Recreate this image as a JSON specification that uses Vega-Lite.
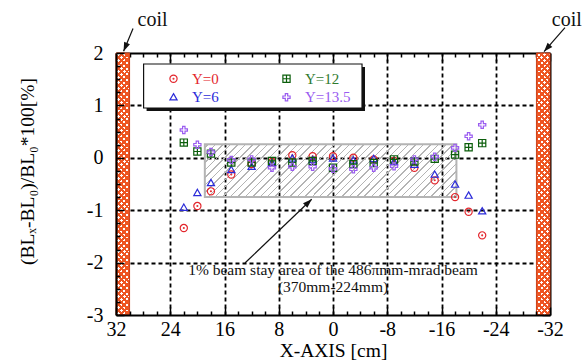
{
  "$schema": "https://vega.github.io/schema/vega-lite/v6.json",
  "width": 434,
  "height": 262,
  "autosize": "none",
  "padding": {"left": 116, "top": 53, "right": 38, "bottom": 47},
  "background": "white",
  "config": {"view": {"stroke": null}, "font": "Liberation Serif"},
  "datasets": {
    "points": [
      {"x": 22, "y": -1.34, "series": "Y=0"}, {"x": 20, "y": -0.92, "series": "Y=0"}, {"x": 18, "y": -0.64, "series": "Y=0"}, {"x": 15, "y": -0.32, "series": "Y=0"}, {"x": 12, "y": -0.12, "series": "Y=0"}, {"x": 9, "y": -0.08, "series": "Y=0"}, {"x": 6, "y": 0.05, "series": "Y=0"}, {"x": 3, "y": 0.03, "series": "Y=0"}, {"x": 0, "y": 0.03, "series": "Y=0"}, {"x": -3, "y": 0.0, "series": "Y=0"}, {"x": -6, "y": -0.03, "series": "Y=0"}, {"x": -9, "y": -0.06, "series": "Y=0"}, {"x": -12, "y": -0.19, "series": "Y=0"}, {"x": -15, "y": -0.43, "series": "Y=0"}, {"x": -18, "y": -0.75, "series": "Y=0"}, {"x": -20, "y": -1.03, "series": "Y=0"}, {"x": -22, "y": -1.48, "series": "Y=0"},
      {"x": 22, "y": -0.95, "series": "Y=6"}, {"x": 20, "y": -0.67, "series": "Y=6"}, {"x": 18, "y": -0.48, "series": "Y=6"}, {"x": 15, "y": -0.23, "series": "Y=6"}, {"x": 12, "y": -0.17, "series": "Y=6"}, {"x": 9, "y": -0.1, "series": "Y=6"}, {"x": 6, "y": -0.01, "series": "Y=6"}, {"x": 3, "y": -0.04, "series": "Y=6"}, {"x": 0, "y": -0.01, "series": "Y=6"}, {"x": -3, "y": -0.05, "series": "Y=6"}, {"x": -6, "y": -0.02, "series": "Y=6"}, {"x": -9, "y": -0.08, "series": "Y=6"}, {"x": -12, "y": -0.13, "series": "Y=6"}, {"x": -15, "y": -0.32, "series": "Y=6"}, {"x": -18, "y": -0.51, "series": "Y=6"}, {"x": -20, "y": -0.72, "series": "Y=6"}, {"x": -22, "y": -1.02, "series": "Y=6"},
      {"x": 22, "y": 0.29, "series": "Y=12"}, {"x": 20, "y": 0.12, "series": "Y=12"}, {"x": 18, "y": 0.08, "series": "Y=12"}, {"x": 15, "y": -0.09, "series": "Y=12"}, {"x": 12, "y": -0.09, "series": "Y=12"}, {"x": 9, "y": -0.06, "series": "Y=12"}, {"x": 6, "y": -0.09, "series": "Y=12"}, {"x": 3, "y": -0.06, "series": "Y=12"}, {"x": 0, "y": -0.19, "series": "Y=12"}, {"x": -3, "y": -0.12, "series": "Y=12"}, {"x": -6, "y": -0.1, "series": "Y=12"}, {"x": -9, "y": -0.03, "series": "Y=12"}, {"x": -12, "y": -0.07, "series": "Y=12"}, {"x": -15, "y": -0.02, "series": "Y=12"}, {"x": -18, "y": 0.06, "series": "Y=12"}, {"x": -20, "y": 0.2, "series": "Y=12"}, {"x": -22, "y": 0.28, "series": "Y=12"},
      {"x": 22, "y": 0.53, "series": "Y=13.5"}, {"x": 20, "y": 0.25, "series": "Y=13.5"}, {"x": 18, "y": 0.11, "series": "Y=13.5"}, {"x": 15, "y": -0.04, "series": "Y=13.5"}, {"x": 12, "y": -0.03, "series": "Y=13.5"}, {"x": 9, "y": -0.19, "series": "Y=13.5"}, {"x": 6, "y": -0.17, "series": "Y=13.5"}, {"x": 3, "y": -0.17, "series": "Y=13.5"}, {"x": 0, "y": -0.21, "series": "Y=13.5"}, {"x": -3, "y": -0.22, "series": "Y=13.5"}, {"x": -6, "y": -0.19, "series": "Y=13.5"}, {"x": -9, "y": -0.16, "series": "Y=13.5"}, {"x": -12, "y": -0.03, "series": "Y=13.5"}, {"x": -15, "y": 0.02, "series": "Y=13.5"}, {"x": -18, "y": 0.19, "series": "Y=13.5"}, {"x": -20, "y": 0.41, "series": "Y=13.5"}, {"x": -22, "y": 0.63, "series": "Y=13.5"}
    ],
    "coils": [
      {"x": 32, "x2": 30, "y": 2, "y2": -3},
      {"x": -30, "x2": -32, "y": 2, "y2": -3}
    ],
    "stayArea": [{"x": 18.9, "x2": -18.2, "y": 0.26, "y2": -0.75}],
    "legendFrame": [
      {"part": "shadow", "x": 27.49, "x2": -4.72, "y": 1.733, "y2": 0.893},
      {"part": "box", "x": 27.93, "x2": -4.28, "y": 1.79, "y2": 0.95}
    ],
    "arrows": [
      {"x": 29.49, "y": 2.467, "x2": 30.88, "y2": 2.033},
      {"x": -34.21, "y": 2.486, "x2": -31.12, "y2": 2.027},
      {"x": 12.98, "y": -2.008, "x2": 3.14, "y2": -0.79}
    ],
    "heads": [
      {"id": "left", "x": 30.88, "y": 2.033},
      {"id": "right", "x": -31.12, "y": 2.027},
      {"id": "main", "x": 3.14, "y": -0.79}
    ],
    "coilLabels": [
      {"x": 26.6, "y": 2.52, "t": "coil"},
      {"x": -34.47, "y": 2.52, "t": "coil"}
    ],
    "note": [
      {"x": 0, "y": -2.237, "t": "1% beam stay area of the 486πmm-mrad beam"},
      {"x": 0, "y": -2.56, "t": "(370mm-224mm)"}
    ]
  },
  "encoding": {
    "x": {"field": "x", "type": "quantitative", "scale": {"domain": [-32, 32], "reverse": true, "nice": false, "zero": false}, "axis": null},
    "y": {"field": "y", "type": "quantitative", "scale": {"domain": [-3, 2], "nice": false, "zero": false}, "axis": null}
  },
  "layer": [
    {
      "data": {"name": "coils"},
      "mark": {"type": "rect", "fill": "white"},
      "encoding": {
        "x": {"field": "x", "type": "quantitative", "scale": {"domain": [-32, 32], "reverse": true, "nice": false, "zero": false},
          "axis": {"orient": "top", "values": [-32,-30,-28,-26,-24,-22,-20,-18,-16,-14,-12,-10,-8,-6,-4,-2,0,2,4,6,8,10,12,14,16,18,20,22,24,26,28,30,32],
            "labels": false, "title": null, "grid": true, "gridColor": "black", "gridDash": [4, 3], "gridWidth": 1.8,
            "gridOpacity": {"condition": {"test": "datum.value % 8 === 0 && abs(datum.value) < 32", "value": 1}, "value": 0},
            "ticks": true, "tickColor": "black", "tickWidth": 1.5,
            "tickSize": {"condition": {"test": "datum.value % 8 === 0", "value": -8}, "value": -4},
            "domain": true, "domainColor": "black", "domainWidth": 2, "zindex": 0}},
        "y": {"field": "y", "type": "quantitative", "scale": {"domain": [-3, 2], "nice": false, "zero": false},
          "axis": {"orient": "right", "values": [-3,-2.75,-2.5,-2.25,-2,-1.75,-1.5,-1.25,-1,-0.75,-0.5,-0.25,0,0.25,0.5,0.75,1,1.25,1.5,1.75,2],
            "labels": false, "title": null, "grid": true, "gridColor": "black", "gridDash": [4, 3], "gridWidth": 1.8,
            "gridOpacity": {"condition": {"test": "datum.value % 1 === 0 && datum.value < 2 && datum.value > -3", "value": 1}, "value": 0},
            "ticks": true, "tickColor": "black", "tickWidth": 1.5,
            "tickSize": {"condition": {"test": "datum.value % 1 === 0", "value": -8}, "value": -4},
            "domain": true, "domainColor": "black", "domainWidth": 2, "zindex": 0}},
        "x2": {"field": "x2"},
        "y2": {"field": "y2"}
      }
    },
    {
      "data": {"name": "coils"},
      "mark": {"type": "rect",
        "fill": {"gradient": "linear", "x1": 0, "y1": 0, "x2": 0.0543, "y2": 1.0489, "stops": [
          {"offset": 0, "color": "#ee5522"}, {"offset": 0.0102, "color": "#ee5522"}, {"offset": 0.0102, "color": "rgba(238,85,34,0)"}, {"offset": 0.02041, "color": "rgba(238,85,34,0)"},
          {"offset": 0.02041, "color": "#ee5522"}, {"offset": 0.03061, "color": "#ee5522"}, {"offset": 0.03061, "color": "rgba(238,85,34,0)"}, {"offset": 0.04082, "color": "rgba(238,85,34,0)"},
          {"offset": 0.04082, "color": "#ee5522"}, {"offset": 0.05102, "color": "#ee5522"}, {"offset": 0.05102, "color": "rgba(238,85,34,0)"}, {"offset": 0.06122, "color": "rgba(238,85,34,0)"},
          {"offset": 0.06122, "color": "#ee5522"}, {"offset": 0.07143, "color": "#ee5522"}, {"offset": 0.07143, "color": "rgba(238,85,34,0)"}, {"offset": 0.08163, "color": "rgba(238,85,34,0)"},
          {"offset": 0.08163, "color": "#ee5522"}, {"offset": 0.09184, "color": "#ee5522"}, {"offset": 0.09184, "color": "rgba(238,85,34,0)"}, {"offset": 0.10204, "color": "rgba(238,85,34,0)"},
          {"offset": 0.10204, "color": "#ee5522"}, {"offset": 0.11224, "color": "#ee5522"}, {"offset": 0.11224, "color": "rgba(238,85,34,0)"}, {"offset": 0.12245, "color": "rgba(238,85,34,0)"},
          {"offset": 0.12245, "color": "#ee5522"}, {"offset": 0.13265, "color": "#ee5522"}, {"offset": 0.13265, "color": "rgba(238,85,34,0)"}, {"offset": 0.14286, "color": "rgba(238,85,34,0)"},
          {"offset": 0.14286, "color": "#ee5522"}, {"offset": 0.15306, "color": "#ee5522"}, {"offset": 0.15306, "color": "rgba(238,85,34,0)"}, {"offset": 0.16327, "color": "rgba(238,85,34,0)"},
          {"offset": 0.16327, "color": "#ee5522"}, {"offset": 0.17347, "color": "#ee5522"}, {"offset": 0.17347, "color": "rgba(238,85,34,0)"}, {"offset": 0.18367, "color": "rgba(238,85,34,0)"},
          {"offset": 0.18367, "color": "#ee5522"}, {"offset": 0.19388, "color": "#ee5522"}, {"offset": 0.19388, "color": "rgba(238,85,34,0)"}, {"offset": 0.20408, "color": "rgba(238,85,34,0)"},
          {"offset": 0.20408, "color": "#ee5522"}, {"offset": 0.21429, "color": "#ee5522"}, {"offset": 0.21429, "color": "rgba(238,85,34,0)"}, {"offset": 0.22449, "color": "rgba(238,85,34,0)"},
          {"offset": 0.22449, "color": "#ee5522"}, {"offset": 0.23469, "color": "#ee5522"}, {"offset": 0.23469, "color": "rgba(238,85,34,0)"}, {"offset": 0.2449, "color": "rgba(238,85,34,0)"},
          {"offset": 0.2449, "color": "#ee5522"}, {"offset": 0.2551, "color": "#ee5522"}, {"offset": 0.2551, "color": "rgba(238,85,34,0)"}, {"offset": 0.26531, "color": "rgba(238,85,34,0)"},
          {"offset": 0.26531, "color": "#ee5522"}, {"offset": 0.27551, "color": "#ee5522"}, {"offset": 0.27551, "color": "rgba(238,85,34,0)"}, {"offset": 0.28571, "color": "rgba(238,85,34,0)"},
          {"offset": 0.28571, "color": "#ee5522"}, {"offset": 0.29592, "color": "#ee5522"}, {"offset": 0.29592, "color": "rgba(238,85,34,0)"}, {"offset": 0.30612, "color": "rgba(238,85,34,0)"},
          {"offset": 0.30612, "color": "#ee5522"}, {"offset": 0.31633, "color": "#ee5522"}, {"offset": 0.31633, "color": "rgba(238,85,34,0)"}, {"offset": 0.32653, "color": "rgba(238,85,34,0)"},
          {"offset": 0.32653, "color": "#ee5522"}, {"offset": 0.33673, "color": "#ee5522"}, {"offset": 0.33673, "color": "rgba(238,85,34,0)"}, {"offset": 0.34694, "color": "rgba(238,85,34,0)"},
          {"offset": 0.34694, "color": "#ee5522"}, {"offset": 0.35714, "color": "#ee5522"}, {"offset": 0.35714, "color": "rgba(238,85,34,0)"}, {"offset": 0.36735, "color": "rgba(238,85,34,0)"},
          {"offset": 0.36735, "color": "#ee5522"}, {"offset": 0.37755, "color": "#ee5522"}, {"offset": 0.37755, "color": "rgba(238,85,34,0)"}, {"offset": 0.38776, "color": "rgba(238,85,34,0)"},
          {"offset": 0.38776, "color": "#ee5522"}, {"offset": 0.39796, "color": "#ee5522"}, {"offset": 0.39796, "color": "rgba(238,85,34,0)"}, {"offset": 0.40816, "color": "rgba(238,85,34,0)"},
          {"offset": 0.40816, "color": "#ee5522"}, {"offset": 0.41837, "color": "#ee5522"}, {"offset": 0.41837, "color": "rgba(238,85,34,0)"}, {"offset": 0.42857, "color": "rgba(238,85,34,0)"},
          {"offset": 0.42857, "color": "#ee5522"}, {"offset": 0.43878, "color": "#ee5522"}, {"offset": 0.43878, "color": "rgba(238,85,34,0)"}, {"offset": 0.44898, "color": "rgba(238,85,34,0)"},
          {"offset": 0.44898, "color": "#ee5522"}, {"offset": 0.45918, "color": "#ee5522"}, {"offset": 0.45918, "color": "rgba(238,85,34,0)"}, {"offset": 0.46939, "color": "rgba(238,85,34,0)"},
          {"offset": 0.46939, "color": "#ee5522"}, {"offset": 0.47959, "color": "#ee5522"}, {"offset": 0.47959, "color": "rgba(238,85,34,0)"}, {"offset": 0.4898, "color": "rgba(238,85,34,0)"},
          {"offset": 0.4898, "color": "#ee5522"}, {"offset": 0.5, "color": "#ee5522"}, {"offset": 0.5, "color": "rgba(238,85,34,0)"}, {"offset": 0.5102, "color": "rgba(238,85,34,0)"},
          {"offset": 0.5102, "color": "#ee5522"}, {"offset": 0.52041, "color": "#ee5522"}, {"offset": 0.52041, "color": "rgba(238,85,34,0)"}, {"offset": 0.53061, "color": "rgba(238,85,34,0)"},
          {"offset": 0.53061, "color": "#ee5522"}, {"offset": 0.54082, "color": "#ee5522"}, {"offset": 0.54082, "color": "rgba(238,85,34,0)"}, {"offset": 0.55102, "color": "rgba(238,85,34,0)"},
          {"offset": 0.55102, "color": "#ee5522"}, {"offset": 0.56122, "color": "#ee5522"}, {"offset": 0.56122, "color": "rgba(238,85,34,0)"}, {"offset": 0.57143, "color": "rgba(238,85,34,0)"},
          {"offset": 0.57143, "color": "#ee5522"}, {"offset": 0.58163, "color": "#ee5522"}, {"offset": 0.58163, "color": "rgba(238,85,34,0)"}, {"offset": 0.59184, "color": "rgba(238,85,34,0)"},
          {"offset": 0.59184, "color": "#ee5522"}, {"offset": 0.60204, "color": "#ee5522"}, {"offset": 0.60204, "color": "rgba(238,85,34,0)"}, {"offset": 0.61224, "color": "rgba(238,85,34,0)"},
          {"offset": 0.61224, "color": "#ee5522"}, {"offset": 0.62245, "color": "#ee5522"}, {"offset": 0.62245, "color": "rgba(238,85,34,0)"}, {"offset": 0.63265, "color": "rgba(238,85,34,0)"},
          {"offset": 0.63265, "color": "#ee5522"}, {"offset": 0.64286, "color": "#ee5522"}, {"offset": 0.64286, "color": "rgba(238,85,34,0)"}, {"offset": 0.65306, "color": "rgba(238,85,34,0)"},
          {"offset": 0.65306, "color": "#ee5522"}, {"offset": 0.66327, "color": "#ee5522"}, {"offset": 0.66327, "color": "rgba(238,85,34,0)"}, {"offset": 0.67347, "color": "rgba(238,85,34,0)"},
          {"offset": 0.67347, "color": "#ee5522"}, {"offset": 0.68367, "color": "#ee5522"}, {"offset": 0.68367, "color": "rgba(238,85,34,0)"}, {"offset": 0.69388, "color": "rgba(238,85,34,0)"},
          {"offset": 0.69388, "color": "#ee5522"}, {"offset": 0.70408, "color": "#ee5522"}, {"offset": 0.70408, "color": "rgba(238,85,34,0)"}, {"offset": 0.71429, "color": "rgba(238,85,34,0)"},
          {"offset": 0.71429, "color": "#ee5522"}, {"offset": 0.72449, "color": "#ee5522"}, {"offset": 0.72449, "color": "rgba(238,85,34,0)"}, {"offset": 0.73469, "color": "rgba(238,85,34,0)"},
          {"offset": 0.73469, "color": "#ee5522"}, {"offset": 0.7449, "color": "#ee5522"}, {"offset": 0.7449, "color": "rgba(238,85,34,0)"}, {"offset": 0.7551, "color": "rgba(238,85,34,0)"},
          {"offset": 0.7551, "color": "#ee5522"}, {"offset": 0.76531, "color": "#ee5522"}, {"offset": 0.76531, "color": "rgba(238,85,34,0)"}, {"offset": 0.77551, "color": "rgba(238,85,34,0)"},
          {"offset": 0.77551, "color": "#ee5522"}, {"offset": 0.78571, "color": "#ee5522"}, {"offset": 0.78571, "color": "rgba(238,85,34,0)"}, {"offset": 0.79592, "color": "rgba(238,85,34,0)"},
          {"offset": 0.79592, "color": "#ee5522"}, {"offset": 0.80612, "color": "#ee5522"}, {"offset": 0.80612, "color": "rgba(238,85,34,0)"}, {"offset": 0.81633, "color": "rgba(238,85,34,0)"},
          {"offset": 0.81633, "color": "#ee5522"}, {"offset": 0.82653, "color": "#ee5522"}, {"offset": 0.82653, "color": "rgba(238,85,34,0)"}, {"offset": 0.83673, "color": "rgba(238,85,34,0)"},
          {"offset": 0.83673, "color": "#ee5522"}, {"offset": 0.84694, "color": "#ee5522"}, {"offset": 0.84694, "color": "rgba(238,85,34,0)"}, {"offset": 0.85714, "color": "rgba(238,85,34,0)"},
          {"offset": 0.85714, "color": "#ee5522"}, {"offset": 0.86735, "color": "#ee5522"}, {"offset": 0.86735, "color": "rgba(238,85,34,0)"}, {"offset": 0.87755, "color": "rgba(238,85,34,0)"},
          {"offset": 0.87755, "color": "#ee5522"}, {"offset": 0.88776, "color": "#ee5522"}, {"offset": 0.88776, "color": "rgba(238,85,34,0)"}, {"offset": 0.89796, "color": "rgba(238,85,34,0)"},
          {"offset": 0.89796, "color": "#ee5522"}, {"offset": 0.90816, "color": "#ee5522"}, {"offset": 0.90816, "color": "rgba(238,85,34,0)"}, {"offset": 0.91837, "color": "rgba(238,85,34,0)"},
          {"offset": 0.91837, "color": "#ee5522"}, {"offset": 0.92857, "color": "#ee5522"}, {"offset": 0.92857, "color": "rgba(238,85,34,0)"}, {"offset": 0.93878, "color": "rgba(238,85,34,0)"},
          {"offset": 0.93878, "color": "#ee5522"}, {"offset": 0.94898, "color": "#ee5522"}, {"offset": 0.94898, "color": "rgba(238,85,34,0)"}, {"offset": 0.95918, "color": "rgba(238,85,34,0)"},
          {"offset": 0.95918, "color": "#ee5522"}, {"offset": 0.96939, "color": "#ee5522"}, {"offset": 0.96939, "color": "rgba(238,85,34,0)"}, {"offset": 0.97959, "color": "rgba(238,85,34,0)"},
          {"offset": 0.97959, "color": "#ee5522"}, {"offset": 0.9898, "color": "#ee5522"}, {"offset": 0.9898, "color": "rgba(238,85,34,0)"}, {"offset": 1, "color": "rgba(238,85,34,0)"}
        ]}},
      "encoding": {"x2": {"field": "x2"}, "y2": {"field": "y2"}}
    },
    {
      "data": {"name": "coils"},
      "mark": {"type": "rect", "stroke": "#c8401a", "strokeWidth": 1,
        "fill": {"gradient": "linear", "x1": 0, "y1": 1, "x2": 0.0543, "y2": -0.0489, "stops": [
          {"offset": 0, "color": "#ee5522"}, {"offset": 0.0102, "color": "#ee5522"}, {"offset": 0.0102, "color": "rgba(238,85,34,0)"}, {"offset": 0.02041, "color": "rgba(238,85,34,0)"},
          {"offset": 0.02041, "color": "#ee5522"}, {"offset": 0.03061, "color": "#ee5522"}, {"offset": 0.03061, "color": "rgba(238,85,34,0)"}, {"offset": 0.04082, "color": "rgba(238,85,34,0)"},
          {"offset": 0.04082, "color": "#ee5522"}, {"offset": 0.05102, "color": "#ee5522"}, {"offset": 0.05102, "color": "rgba(238,85,34,0)"}, {"offset": 0.06122, "color": "rgba(238,85,34,0)"},
          {"offset": 0.06122, "color": "#ee5522"}, {"offset": 0.07143, "color": "#ee5522"}, {"offset": 0.07143, "color": "rgba(238,85,34,0)"}, {"offset": 0.08163, "color": "rgba(238,85,34,0)"},
          {"offset": 0.08163, "color": "#ee5522"}, {"offset": 0.09184, "color": "#ee5522"}, {"offset": 0.09184, "color": "rgba(238,85,34,0)"}, {"offset": 0.10204, "color": "rgba(238,85,34,0)"},
          {"offset": 0.10204, "color": "#ee5522"}, {"offset": 0.11224, "color": "#ee5522"}, {"offset": 0.11224, "color": "rgba(238,85,34,0)"}, {"offset": 0.12245, "color": "rgba(238,85,34,0)"},
          {"offset": 0.12245, "color": "#ee5522"}, {"offset": 0.13265, "color": "#ee5522"}, {"offset": 0.13265, "color": "rgba(238,85,34,0)"}, {"offset": 0.14286, "color": "rgba(238,85,34,0)"},
          {"offset": 0.14286, "color": "#ee5522"}, {"offset": 0.15306, "color": "#ee5522"}, {"offset": 0.15306, "color": "rgba(238,85,34,0)"}, {"offset": 0.16327, "color": "rgba(238,85,34,0)"},
          {"offset": 0.16327, "color": "#ee5522"}, {"offset": 0.17347, "color": "#ee5522"}, {"offset": 0.17347, "color": "rgba(238,85,34,0)"}, {"offset": 0.18367, "color": "rgba(238,85,34,0)"},
          {"offset": 0.18367, "color": "#ee5522"}, {"offset": 0.19388, "color": "#ee5522"}, {"offset": 0.19388, "color": "rgba(238,85,34,0)"}, {"offset": 0.20408, "color": "rgba(238,85,34,0)"},
          {"offset": 0.20408, "color": "#ee5522"}, {"offset": 0.21429, "color": "#ee5522"}, {"offset": 0.21429, "color": "rgba(238,85,34,0)"}, {"offset": 0.22449, "color": "rgba(238,85,34,0)"},
          {"offset": 0.22449, "color": "#ee5522"}, {"offset": 0.23469, "color": "#ee5522"}, {"offset": 0.23469, "color": "rgba(238,85,34,0)"}, {"offset": 0.2449, "color": "rgba(238,85,34,0)"},
          {"offset": 0.2449, "color": "#ee5522"}, {"offset": 0.2551, "color": "#ee5522"}, {"offset": 0.2551, "color": "rgba(238,85,34,0)"}, {"offset": 0.26531, "color": "rgba(238,85,34,0)"},
          {"offset": 0.26531, "color": "#ee5522"}, {"offset": 0.27551, "color": "#ee5522"}, {"offset": 0.27551, "color": "rgba(238,85,34,0)"}, {"offset": 0.28571, "color": "rgba(238,85,34,0)"},
          {"offset": 0.28571, "color": "#ee5522"}, {"offset": 0.29592, "color": "#ee5522"}, {"offset": 0.29592, "color": "rgba(238,85,34,0)"}, {"offset": 0.30612, "color": "rgba(238,85,34,0)"},
          {"offset": 0.30612, "color": "#ee5522"}, {"offset": 0.31633, "color": "#ee5522"}, {"offset": 0.31633, "color": "rgba(238,85,34,0)"}, {"offset": 0.32653, "color": "rgba(238,85,34,0)"},
          {"offset": 0.32653, "color": "#ee5522"}, {"offset": 0.33673, "color": "#ee5522"}, {"offset": 0.33673, "color": "rgba(238,85,34,0)"}, {"offset": 0.34694, "color": "rgba(238,85,34,0)"},
          {"offset": 0.34694, "color": "#ee5522"}, {"offset": 0.35714, "color": "#ee5522"}, {"offset": 0.35714, "color": "rgba(238,85,34,0)"}, {"offset": 0.36735, "color": "rgba(238,85,34,0)"},
          {"offset": 0.36735, "color": "#ee5522"}, {"offset": 0.37755, "color": "#ee5522"}, {"offset": 0.37755, "color": "rgba(238,85,34,0)"}, {"offset": 0.38776, "color": "rgba(238,85,34,0)"},
          {"offset": 0.38776, "color": "#ee5522"}, {"offset": 0.39796, "color": "#ee5522"}, {"offset": 0.39796, "color": "rgba(238,85,34,0)"}, {"offset": 0.40816, "color": "rgba(238,85,34,0)"},
          {"offset": 0.40816, "color": "#ee5522"}, {"offset": 0.41837, "color": "#ee5522"}, {"offset": 0.41837, "color": "rgba(238,85,34,0)"}, {"offset": 0.42857, "color": "rgba(238,85,34,0)"},
          {"offset": 0.42857, "color": "#ee5522"}, {"offset": 0.43878, "color": "#ee5522"}, {"offset": 0.43878, "color": "rgba(238,85,34,0)"}, {"offset": 0.44898, "color": "rgba(238,85,34,0)"},
          {"offset": 0.44898, "color": "#ee5522"}, {"offset": 0.45918, "color": "#ee5522"}, {"offset": 0.45918, "color": "rgba(238,85,34,0)"}, {"offset": 0.46939, "color": "rgba(238,85,34,0)"},
          {"offset": 0.46939, "color": "#ee5522"}, {"offset": 0.47959, "color": "#ee5522"}, {"offset": 0.47959, "color": "rgba(238,85,34,0)"}, {"offset": 0.4898, "color": "rgba(238,85,34,0)"},
          {"offset": 0.4898, "color": "#ee5522"}, {"offset": 0.5, "color": "#ee5522"}, {"offset": 0.5, "color": "rgba(238,85,34,0)"}, {"offset": 0.5102, "color": "rgba(238,85,34,0)"},
          {"offset": 0.5102, "color": "#ee5522"}, {"offset": 0.52041, "color": "#ee5522"}, {"offset": 0.52041, "color": "rgba(238,85,34,0)"}, {"offset": 0.53061, "color": "rgba(238,85,34,0)"},
          {"offset": 0.53061, "color": "#ee5522"}, {"offset": 0.54082, "color": "#ee5522"}, {"offset": 0.54082, "color": "rgba(238,85,34,0)"}, {"offset": 0.55102, "color": "rgba(238,85,34,0)"},
          {"offset": 0.55102, "color": "#ee5522"}, {"offset": 0.56122, "color": "#ee5522"}, {"offset": 0.56122, "color": "rgba(238,85,34,0)"}, {"offset": 0.57143, "color": "rgba(238,85,34,0)"},
          {"offset": 0.57143, "color": "#ee5522"}, {"offset": 0.58163, "color": "#ee5522"}, {"offset": 0.58163, "color": "rgba(238,85,34,0)"}, {"offset": 0.59184, "color": "rgba(238,85,34,0)"},
          {"offset": 0.59184, "color": "#ee5522"}, {"offset": 0.60204, "color": "#ee5522"}, {"offset": 0.60204, "color": "rgba(238,85,34,0)"}, {"offset": 0.61224, "color": "rgba(238,85,34,0)"},
          {"offset": 0.61224, "color": "#ee5522"}, {"offset": 0.62245, "color": "#ee5522"}, {"offset": 0.62245, "color": "rgba(238,85,34,0)"}, {"offset": 0.63265, "color": "rgba(238,85,34,0)"},
          {"offset": 0.63265, "color": "#ee5522"}, {"offset": 0.64286, "color": "#ee5522"}, {"offset": 0.64286, "color": "rgba(238,85,34,0)"}, {"offset": 0.65306, "color": "rgba(238,85,34,0)"},
          {"offset": 0.65306, "color": "#ee5522"}, {"offset": 0.66327, "color": "#ee5522"}, {"offset": 0.66327, "color": "rgba(238,85,34,0)"}, {"offset": 0.67347, "color": "rgba(238,85,34,0)"},
          {"offset": 0.67347, "color": "#ee5522"}, {"offset": 0.68367, "color": "#ee5522"}, {"offset": 0.68367, "color": "rgba(238,85,34,0)"}, {"offset": 0.69388, "color": "rgba(238,85,34,0)"},
          {"offset": 0.69388, "color": "#ee5522"}, {"offset": 0.70408, "color": "#ee5522"}, {"offset": 0.70408, "color": "rgba(238,85,34,0)"}, {"offset": 0.71429, "color": "rgba(238,85,34,0)"},
          {"offset": 0.71429, "color": "#ee5522"}, {"offset": 0.72449, "color": "#ee5522"}, {"offset": 0.72449, "color": "rgba(238,85,34,0)"}, {"offset": 0.73469, "color": "rgba(238,85,34,0)"},
          {"offset": 0.73469, "color": "#ee5522"}, {"offset": 0.7449, "color": "#ee5522"}, {"offset": 0.7449, "color": "rgba(238,85,34,0)"}, {"offset": 0.7551, "color": "rgba(238,85,34,0)"},
          {"offset": 0.7551, "color": "#ee5522"}, {"offset": 0.76531, "color": "#ee5522"}, {"offset": 0.76531, "color": "rgba(238,85,34,0)"}, {"offset": 0.77551, "color": "rgba(238,85,34,0)"},
          {"offset": 0.77551, "color": "#ee5522"}, {"offset": 0.78571, "color": "#ee5522"}, {"offset": 0.78571, "color": "rgba(238,85,34,0)"}, {"offset": 0.79592, "color": "rgba(238,85,34,0)"},
          {"offset": 0.79592, "color": "#ee5522"}, {"offset": 0.80612, "color": "#ee5522"}, {"offset": 0.80612, "color": "rgba(238,85,34,0)"}, {"offset": 0.81633, "color": "rgba(238,85,34,0)"},
          {"offset": 0.81633, "color": "#ee5522"}, {"offset": 0.82653, "color": "#ee5522"}, {"offset": 0.82653, "color": "rgba(238,85,34,0)"}, {"offset": 0.83673, "color": "rgba(238,85,34,0)"},
          {"offset": 0.83673, "color": "#ee5522"}, {"offset": 0.84694, "color": "#ee5522"}, {"offset": 0.84694, "color": "rgba(238,85,34,0)"}, {"offset": 0.85714, "color": "rgba(238,85,34,0)"},
          {"offset": 0.85714, "color": "#ee5522"}, {"offset": 0.86735, "color": "#ee5522"}, {"offset": 0.86735, "color": "rgba(238,85,34,0)"}, {"offset": 0.87755, "color": "rgba(238,85,34,0)"},
          {"offset": 0.87755, "color": "#ee5522"}, {"offset": 0.88776, "color": "#ee5522"}, {"offset": 0.88776, "color": "rgba(238,85,34,0)"}, {"offset": 0.89796, "color": "rgba(238,85,34,0)"},
          {"offset": 0.89796, "color": "#ee5522"}, {"offset": 0.90816, "color": "#ee5522"}, {"offset": 0.90816, "color": "rgba(238,85,34,0)"}, {"offset": 0.91837, "color": "rgba(238,85,34,0)"},
          {"offset": 0.91837, "color": "#ee5522"}, {"offset": 0.92857, "color": "#ee5522"}, {"offset": 0.92857, "color": "rgba(238,85,34,0)"}, {"offset": 0.93878, "color": "rgba(238,85,34,0)"},
          {"offset": 0.93878, "color": "#ee5522"}, {"offset": 0.94898, "color": "#ee5522"}, {"offset": 0.94898, "color": "rgba(238,85,34,0)"}, {"offset": 0.95918, "color": "rgba(238,85,34,0)"},
          {"offset": 0.95918, "color": "#ee5522"}, {"offset": 0.96939, "color": "#ee5522"}, {"offset": 0.96939, "color": "rgba(238,85,34,0)"}, {"offset": 0.97959, "color": "rgba(238,85,34,0)"},
          {"offset": 0.97959, "color": "#ee5522"}, {"offset": 0.9898, "color": "#ee5522"}, {"offset": 0.9898, "color": "rgba(238,85,34,0)"}, {"offset": 1, "color": "rgba(238,85,34,0)"}
        ]}},
      "encoding": {"x2": {"field": "x2"}, "y2": {"field": "y2"}}
    },
    {
      "data": {"name": "stayArea"},
      "mark": {"type": "rect", "stroke": "#b4b4b4", "strokeWidth": 2,
        "fill": {"gradient": "linear", "x1": 0, "y1": 0, "x2": 1.1588, "y2": 0.2432, "stops": [
          {"offset": 0, "color": "rgba(255,255,255,0)"},
          {"offset": 0.00976, "color": "rgba(255,255,255,0)"}, {"offset": 0.00976, "color": "#b4b4b4"}, {"offset": 0.01463, "color": "#b4b4b4"}, {"offset": 0.01463, "color": "rgba(255,255,255,0)"},
          {"offset": 0.03415, "color": "rgba(255,255,255,0)"}, {"offset": 0.03415, "color": "#b4b4b4"}, {"offset": 0.03902, "color": "#b4b4b4"}, {"offset": 0.03902, "color": "rgba(255,255,255,0)"},
          {"offset": 0.05854, "color": "rgba(255,255,255,0)"}, {"offset": 0.05854, "color": "#b4b4b4"}, {"offset": 0.06341, "color": "#b4b4b4"}, {"offset": 0.06341, "color": "rgba(255,255,255,0)"},
          {"offset": 0.08293, "color": "rgba(255,255,255,0)"}, {"offset": 0.08293, "color": "#b4b4b4"}, {"offset": 0.0878, "color": "#b4b4b4"}, {"offset": 0.0878, "color": "rgba(255,255,255,0)"},
          {"offset": 0.10732, "color": "rgba(255,255,255,0)"}, {"offset": 0.10732, "color": "#b4b4b4"}, {"offset": 0.11219, "color": "#b4b4b4"}, {"offset": 0.11219, "color": "rgba(255,255,255,0)"},
          {"offset": 0.13171, "color": "rgba(255,255,255,0)"}, {"offset": 0.13171, "color": "#b4b4b4"}, {"offset": 0.13658, "color": "#b4b4b4"}, {"offset": 0.13658, "color": "rgba(255,255,255,0)"},
          {"offset": 0.1561, "color": "rgba(255,255,255,0)"}, {"offset": 0.1561, "color": "#b4b4b4"}, {"offset": 0.16097, "color": "#b4b4b4"}, {"offset": 0.16097, "color": "rgba(255,255,255,0)"},
          {"offset": 0.18049, "color": "rgba(255,255,255,0)"}, {"offset": 0.18049, "color": "#b4b4b4"}, {"offset": 0.18536, "color": "#b4b4b4"}, {"offset": 0.18536, "color": "rgba(255,255,255,0)"},
          {"offset": 0.20488, "color": "rgba(255,255,255,0)"}, {"offset": 0.20488, "color": "#b4b4b4"}, {"offset": 0.20975, "color": "#b4b4b4"}, {"offset": 0.20975, "color": "rgba(255,255,255,0)"},
          {"offset": 0.22927, "color": "rgba(255,255,255,0)"}, {"offset": 0.22927, "color": "#b4b4b4"}, {"offset": 0.23414, "color": "#b4b4b4"}, {"offset": 0.23414, "color": "rgba(255,255,255,0)"},
          {"offset": 0.25366, "color": "rgba(255,255,255,0)"}, {"offset": 0.25366, "color": "#b4b4b4"}, {"offset": 0.25853, "color": "#b4b4b4"}, {"offset": 0.25853, "color": "rgba(255,255,255,0)"},
          {"offset": 0.27805, "color": "rgba(255,255,255,0)"}, {"offset": 0.27805, "color": "#b4b4b4"}, {"offset": 0.28292, "color": "#b4b4b4"}, {"offset": 0.28292, "color": "rgba(255,255,255,0)"},
          {"offset": 0.30244, "color": "rgba(255,255,255,0)"}, {"offset": 0.30244, "color": "#b4b4b4"}, {"offset": 0.30731, "color": "#b4b4b4"}, {"offset": 0.30731, "color": "rgba(255,255,255,0)"},
          {"offset": 0.32683, "color": "rgba(255,255,255,0)"}, {"offset": 0.32683, "color": "#b4b4b4"}, {"offset": 0.3317, "color": "#b4b4b4"}, {"offset": 0.3317, "color": "rgba(255,255,255,0)"},
          {"offset": 0.35122, "color": "rgba(255,255,255,0)"}, {"offset": 0.35122, "color": "#b4b4b4"}, {"offset": 0.35609, "color": "#b4b4b4"}, {"offset": 0.35609, "color": "rgba(255,255,255,0)"},
          {"offset": 0.37561, "color": "rgba(255,255,255,0)"}, {"offset": 0.37561, "color": "#b4b4b4"}, {"offset": 0.38048, "color": "#b4b4b4"}, {"offset": 0.38048, "color": "rgba(255,255,255,0)"},
          {"offset": 0.4, "color": "rgba(255,255,255,0)"}, {"offset": 0.4, "color": "#b4b4b4"}, {"offset": 0.40487, "color": "#b4b4b4"}, {"offset": 0.40487, "color": "rgba(255,255,255,0)"},
          {"offset": 0.42439, "color": "rgba(255,255,255,0)"}, {"offset": 0.42439, "color": "#b4b4b4"}, {"offset": 0.42926, "color": "#b4b4b4"}, {"offset": 0.42926, "color": "rgba(255,255,255,0)"},
          {"offset": 0.44878, "color": "rgba(255,255,255,0)"}, {"offset": 0.44878, "color": "#b4b4b4"}, {"offset": 0.45365, "color": "#b4b4b4"}, {"offset": 0.45365, "color": "rgba(255,255,255,0)"},
          {"offset": 0.47317, "color": "rgba(255,255,255,0)"}, {"offset": 0.47317, "color": "#b4b4b4"}, {"offset": 0.47804, "color": "#b4b4b4"}, {"offset": 0.47804, "color": "rgba(255,255,255,0)"},
          {"offset": 0.49756, "color": "rgba(255,255,255,0)"}, {"offset": 0.49756, "color": "#b4b4b4"}, {"offset": 0.50243, "color": "#b4b4b4"}, {"offset": 0.50243, "color": "rgba(255,255,255,0)"},
          {"offset": 0.52196, "color": "rgba(255,255,255,0)"}, {"offset": 0.52196, "color": "#b4b4b4"}, {"offset": 0.52683, "color": "#b4b4b4"}, {"offset": 0.52683, "color": "rgba(255,255,255,0)"},
          {"offset": 0.54635, "color": "rgba(255,255,255,0)"}, {"offset": 0.54635, "color": "#b4b4b4"}, {"offset": 0.55122, "color": "#b4b4b4"}, {"offset": 0.55122, "color": "rgba(255,255,255,0)"},
          {"offset": 0.57074, "color": "rgba(255,255,255,0)"}, {"offset": 0.57074, "color": "#b4b4b4"}, {"offset": 0.57561, "color": "#b4b4b4"}, {"offset": 0.57561, "color": "rgba(255,255,255,0)"},
          {"offset": 0.59513, "color": "rgba(255,255,255,0)"}, {"offset": 0.59513, "color": "#b4b4b4"}, {"offset": 0.6, "color": "#b4b4b4"}, {"offset": 0.6, "color": "rgba(255,255,255,0)"},
          {"offset": 0.61952, "color": "rgba(255,255,255,0)"}, {"offset": 0.61952, "color": "#b4b4b4"}, {"offset": 0.62439, "color": "#b4b4b4"}, {"offset": 0.62439, "color": "rgba(255,255,255,0)"},
          {"offset": 0.64391, "color": "rgba(255,255,255,0)"}, {"offset": 0.64391, "color": "#b4b4b4"}, {"offset": 0.64878, "color": "#b4b4b4"}, {"offset": 0.64878, "color": "rgba(255,255,255,0)"},
          {"offset": 0.6683, "color": "rgba(255,255,255,0)"}, {"offset": 0.6683, "color": "#b4b4b4"}, {"offset": 0.67317, "color": "#b4b4b4"}, {"offset": 0.67317, "color": "rgba(255,255,255,0)"},
          {"offset": 0.69269, "color": "rgba(255,255,255,0)"}, {"offset": 0.69269, "color": "#b4b4b4"}, {"offset": 0.69756, "color": "#b4b4b4"}, {"offset": 0.69756, "color": "rgba(255,255,255,0)"},
          {"offset": 0.71708, "color": "rgba(255,255,255,0)"}, {"offset": 0.71708, "color": "#b4b4b4"}, {"offset": 0.72195, "color": "#b4b4b4"}, {"offset": 0.72195, "color": "rgba(255,255,255,0)"},
          {"offset": 0.74147, "color": "rgba(255,255,255,0)"}, {"offset": 0.74147, "color": "#b4b4b4"}, {"offset": 0.74634, "color": "#b4b4b4"}, {"offset": 0.74634, "color": "rgba(255,255,255,0)"},
          {"offset": 0.76586, "color": "rgba(255,255,255,0)"}, {"offset": 0.76586, "color": "#b4b4b4"}, {"offset": 0.77073, "color": "#b4b4b4"}, {"offset": 0.77073, "color": "rgba(255,255,255,0)"},
          {"offset": 0.79025, "color": "rgba(255,255,255,0)"}, {"offset": 0.79025, "color": "#b4b4b4"}, {"offset": 0.79512, "color": "#b4b4b4"}, {"offset": 0.79512, "color": "rgba(255,255,255,0)"},
          {"offset": 0.81464, "color": "rgba(255,255,255,0)"}, {"offset": 0.81464, "color": "#b4b4b4"}, {"offset": 0.81951, "color": "#b4b4b4"}, {"offset": 0.81951, "color": "rgba(255,255,255,0)"},
          {"offset": 0.83903, "color": "rgba(255,255,255,0)"}, {"offset": 0.83903, "color": "#b4b4b4"}, {"offset": 0.8439, "color": "#b4b4b4"}, {"offset": 0.8439, "color": "rgba(255,255,255,0)"},
          {"offset": 0.86342, "color": "rgba(255,255,255,0)"}, {"offset": 0.86342, "color": "#b4b4b4"}, {"offset": 0.86829, "color": "#b4b4b4"}, {"offset": 0.86829, "color": "rgba(255,255,255,0)"},
          {"offset": 0.88781, "color": "rgba(255,255,255,0)"}, {"offset": 0.88781, "color": "#b4b4b4"}, {"offset": 0.89268, "color": "#b4b4b4"}, {"offset": 0.89268, "color": "rgba(255,255,255,0)"},
          {"offset": 0.9122, "color": "rgba(255,255,255,0)"}, {"offset": 0.9122, "color": "#b4b4b4"}, {"offset": 0.91707, "color": "#b4b4b4"}, {"offset": 0.91707, "color": "rgba(255,255,255,0)"},
          {"offset": 0.93659, "color": "rgba(255,255,255,0)"}, {"offset": 0.93659, "color": "#b4b4b4"}, {"offset": 0.94146, "color": "#b4b4b4"}, {"offset": 0.94146, "color": "rgba(255,255,255,0)"},
          {"offset": 0.96098, "color": "rgba(255,255,255,0)"}, {"offset": 0.96098, "color": "#b4b4b4"}, {"offset": 0.96585, "color": "#b4b4b4"}, {"offset": 0.96585, "color": "rgba(255,255,255,0)"},
          {"offset": 0.98537, "color": "rgba(255,255,255,0)"}, {"offset": 0.98537, "color": "#b4b4b4"}, {"offset": 0.99024, "color": "#b4b4b4"}, {"offset": 0.99024, "color": "rgba(255,255,255,0)"},
          {"offset": 1, "color": "rgba(255,255,255,0)"}
        ]}},
      "encoding": {"x2": {"field": "x2"}, "y2": {"field": "y2"}}
    },
    {
      "data": {"name": "legendFrame"},
      "transform": [{"filter": "datum.part === 'shadow'"}],
      "mark": {"type": "rect", "fill": "#111111"},
      "encoding": {"x2": {"field": "x2"}, "y2": {"field": "y2"}}
    },
    {
      "data": {"name": "legendFrame"},
      "transform": [{"filter": "datum.part === 'box'"}],
      "mark": {"type": "rect", "fill": "white", "stroke": "#111111", "strokeWidth": 1.2},
      "encoding": {"x2": {"field": "x2"}, "y2": {"field": "y2"}}
    },
    {
      "data": {"name": "points"},
      "mark": {"type": "point", "filled": false, "strokeWidth": 1.2, "size": 52, "opacity": 1},
      "encoding": {
        "x": {"field": "x", "type": "quantitative", "scale": {"domain": [-32, 32], "reverse": true, "nice": false, "zero": false},
          "axis": {"orient": "bottom", "values": [-32,-30,-28,-26,-24,-22,-20,-18,-16,-14,-12,-10,-8,-6,-4,-2,0,2,4,6,8,10,12,14,16,18,20,22,24,26,28,30,32],
            "labelExpr": "datum.value % 8 === 0 ? '' + datum.value : ''",
            "labelFont": "Liberation Serif", "labelFontSize": 20, "labelColor": "black", "labelPadding": 12,
            "labelFlush": false, "labelOverlap": false, "labelBound": false,
            "grid": false, "ticks": true, "tickColor": "black", "tickWidth": 1.5,
            "tickSize": {"condition": {"test": "datum.value % 8 === 0", "value": -8}, "value": -4},
            "domain": true, "domainColor": "black", "domainWidth": 2,
            "title": "X-AXIS [cm]", "titleFont": "Liberation Serif", "titleFontSize": 19.5, "titleFontWeight": "normal", "titleColor": "black",
            "titleY": 41, "titleBaseline": "alphabetic", "zindex": 1}},
        "y": {"field": "y", "type": "quantitative", "scale": {"domain": [-3, 2], "nice": false, "zero": false},
          "axis": {"orient": "left", "values": [-3,-2.75,-2.5,-2.25,-2,-1.75,-1.5,-1.25,-1,-0.75,-0.5,-0.25,0,0.25,0.5,0.75,1,1.25,1.5,1.75,2],
            "labelExpr": "datum.value % 1 === 0 ? '' + datum.value : ''",
            "labelFont": "Liberation Serif", "labelFontSize": 20, "labelColor": "black", "labelPadding": 21,
            "labelFlush": false, "labelOverlap": false, "labelBound": false,
            "grid": false, "ticks": true, "tickColor": "black", "tickWidth": 1.5,
            "tickSize": {"condition": {"test": "datum.value % 1 === 0", "value": -8}, "value": -4},
            "domain": true, "domainColor": "black", "domainWidth": 2,
            "title": "(BLₓ-BL₀)/BL₀*100[%]", "titleFont": "Liberation Serif", "titleFontSize": 19.5, "titleFontWeight": "normal", "titleColor": "black",
            "titleX": -89, "titleY": 118, "titleBaseline": "middle", "titleAlign": "center", "titleAngle": -90, "zindex": 1}},
        "color": {"field": "series", "type": "nominal",
          "scale": {"domain": ["Y=0", "Y=12", "Y=6", "Y=13.5"], "range": ["#e3262d", "#0b5e0b", "#2b2bd9", "#9a5cf0"]},
          "legend": {"title": null, "orient": "none", "legendX": 50, "legendY": 18, "columns": 2, "direction": "horizontal",
            "symbolSize": 52, "symbolStrokeWidth": 1.2, "labelFont": "Liberation Serif", "labelFontSize": 15, "labelOffset": 11,
            "columnPadding": 60, "rowPadding": 2.7, "padding": 0,
            "labelColor": {"expr": "datum.value === 'Y=12' ? '#2f7a2f' : datum.value === 'Y=0' ? '#e3262d' : datum.value === 'Y=6' ? '#2b2bd9' : '#9a5cf0'"}}},
        "shape": {"field": "series", "type": "nominal",
          "scale": {"domain": ["Y=0", "Y=12", "Y=6", "Y=13.5"], "range": [
            "M-1,0A1,1 0 1,0 1,0A1,1 0 1,0 -1,0Z M-0.12,0A0.12,0.12 0 1,0 0.12,0A0.12,0.12 0 1,0 -0.12,0Z",
            "M-1,-1L1,-1L1,1L-1,1Z M0,-1L0,1 M-1,0L1,0",
            "M0,-1L1,0.75L-1,0.75Z",
            "M-0.33,-1L0.33,-1L0.33,-0.33L1,-0.33L1,0.33L0.33,0.33L0.33,1L-0.33,1L-0.33,0.33L-1,0.33L-1,-0.33L-0.33,-0.33Z"]},
          "legend": {"title": null, "orient": "none", "legendX": 50, "legendY": 18, "columns": 2, "direction": "horizontal",
            "symbolSize": 52, "symbolStrokeWidth": 1.2, "labelFont": "Liberation Serif", "labelFontSize": 15, "labelOffset": 11,
            "columnPadding": 60, "rowPadding": 2.7, "padding": 0,
            "labelColor": {"expr": "datum.value === 'Y=12' ? '#2f7a2f' : datum.value === 'Y=0' ? '#e3262d' : datum.value === 'Y=6' ? '#2b2bd9' : '#9a5cf0'"}}}
      }
    },
    {
      "data": {"name": "arrows"},
      "mark": {"type": "rule", "color": "#111111", "strokeWidth": 1.2},
      "encoding": {"x2": {"field": "x2"}, "y2": {"field": "y2"}}
    },
    {
      "data": {"name": "heads"},
      "transform": [{"filter": "datum.id === 'left'"}],
      "mark": {"type": "point", "shape": "M0,0L-0.35,1L0.35,1Z", "filled": true, "color": "#111111", "size": 324, "angle": 202.5, "opacity": 1},
      "encoding": {}
    },
    {
      "data": {"name": "heads"},
      "transform": [{"filter": "datum.id === 'right'"}],
      "mark": {"type": "point", "shape": "M0,0L-0.35,1L0.35,1Z", "filled": true, "color": "#111111", "size": 324, "angle": 221.2, "opacity": 1},
      "encoding": {}
    },
    {
      "data": {"name": "heads"},
      "transform": [{"filter": "datum.id === 'main'"}],
      "mark": {"type": "point", "shape": "M0,0L-0.35,1L0.35,1Z", "filled": true, "color": "#111111", "size": 324, "angle": 46.3, "opacity": 1},
      "encoding": {}
    },
    {
      "data": {"name": "coilLabels"},
      "mark": {"type": "text", "font": "Liberation Serif", "fontSize": 20, "align": "center", "baseline": "alphabetic", "color": "#111111"},
      "encoding": {"text": {"field": "t"}}
    },
    {
      "data": {"name": "note"},
      "mark": {"type": "text", "font": "Liberation Serif", "fontSize": 15.5, "align": "center", "baseline": "alphabetic", "color": "#111111"},
      "encoding": {"text": {"field": "t"}}
    }
  ],
  "resolve": {"axis": {"x": "independent", "y": "independent"}}
}
